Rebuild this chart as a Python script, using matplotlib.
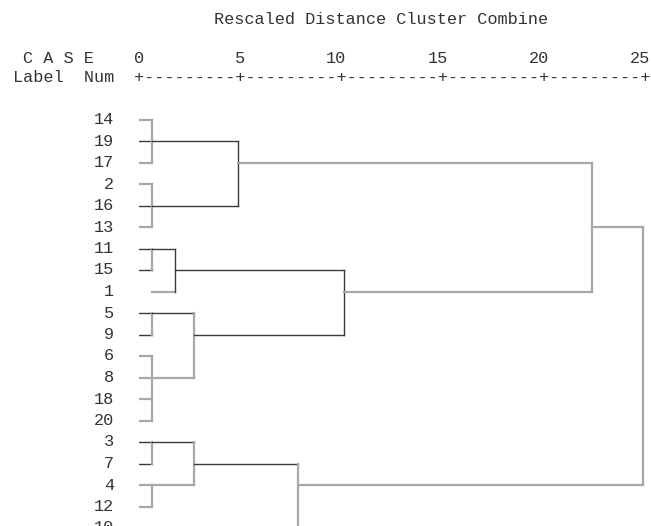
import matplotlib
matplotlib.use("Agg")
import matplotlib.pyplot as plt

# case labels, top to bottom as they appear in the dendrogram
labels = ['14', '19', '17', '2', '16', '13', '11', '15', '1', '5',
          '9', '6', '8', '18', '20', '3', '7', '4', '12', '10']

# merge steps: children are leaf indices (int) or earlier merge names (str)
merge_names = ['A', 'B', 'C', 'D', 'E', 'F', 'G', 'H', 'I', 'J', 'K', 'L', 'M', 'N', 'root']
merge_children = [[0, 1, 2], [3, 4, 5], ['A', 'B'], [6, 7], ['D', 8], [9, 10],
                  [11, 12, 13, 14], ['F', 'G'], ['E', 'H'], ['C', 'I'],
                  [15, 16], [17, 18], ['K', 'L'], ['M', 19], ['J', 'N']]
merge_dist = [0.66, 0.66, 4.88, 0.66, 1.78, 0.66, 0.66, 2.73, 10.15, 22.4,
              0.66, 0.66, 2.73, 7.84, 24.92]
merge_row = [1, 4, 2, 6, 7, 9, 12, 10, 8, 5, 15, 17, 16, 17, None]

ticks = [0, 5, 10, 15, 20, 25]
title = "Rescaled Distance Cluster Combine"

# look of the scanned SPSS output: some lines crisp and dark, others soft grey
dark_rows = {1, 4, 6, 7, 9, 10, 15, 16}
dark_vlines = {'C', 'E', 'I'}
DARK = dict(color='#3a3a3a', lw=1.0)
GREY = dict(color='#a8a8a8', lw=1.6)
MONO = dict(family='Liberation Mono', fontsize=12.14, color='#333333')

W, H = 651, 526
x0_px, x25_px = 139, 645
row0_px, row_step = 119.5, 21.5

fig = plt.figure(figsize=(W / 100, H / 100), dpi=100)
ax = fig.add_axes([x0_px / W, 0, (x25_px - x0_px) / W, 1])
ax.set_xlim(0, 25)
ax.set_ylim((H - row0_px) / row_step, -row0_px / row_step)
ax.axis('off')

px = (x25_px - x0_px) / 25.0  # pixels per distance unit
half_char = 0.6 * MONO['fontsize'] * 100 / 72 / 2 / px

info = {n: (c, d, r) for n, c, d, r in zip(merge_names, merge_children, merge_dist, merge_row)}
parent = {}
for n, c in zip(merge_names, merge_children):
    for ch in c:
        parent[ch] = n


def row_of(ch):
    return ch if isinstance(ch, int) else info[ch][2]


def y_of(px_y):
    return (px_y - row0_px) / row_step


# leaf lines
for i, lab in enumerate(labels):
    start = 0.63 if lab == '1' else -0.28
    st = DARK if i in dark_rows else GREY
    ax.plot([start, info[parent[i]][1]], [i, i], solid_capstyle='projecting', **st)
    ax.text(-1.235, i, lab, ha='right', va='center', clip_on=False, **MONO)

# merge lines
for n, c, d, r in zip(merge_names, merge_children, merge_dist, merge_row):
    rows = [row_of(ch) for ch in c]
    st = DARK if n in dark_vlines else GREY
    ax.plot([d, d], [min(rows), max(rows)], solid_capstyle='projecting', **st)
    if n in parent:
        st = DARK if r in dark_rows else GREY
        ax.plot([d, info[parent[n]][1]], [r, r], solid_capstyle='projecting', **st)

# header, drawn like the text output
ax.text(3.7, y_of(19), title, ha='left', va='center', clip_on=False, **MONO)
ax.text(-5.72, y_of(58), 'C A S E', ha='left', va='center', clip_on=False, **MONO)
ax.text(-6.23, y_of(77), 'Label  Num', ha='left', va='center', clip_on=False, **MONO)
for t in ticks:
    ax.text(t + half_char, y_of(58), str(t), ha='right', va='center', clip_on=False, **MONO)
rule = '+' + '---------+' * (len(ticks) - 1)
ax.text(-half_char, y_of(77), rule, ha='left', va='center', clip_on=False, **MONO)

fig.savefig('out.png', dpi=100, facecolor='white')
